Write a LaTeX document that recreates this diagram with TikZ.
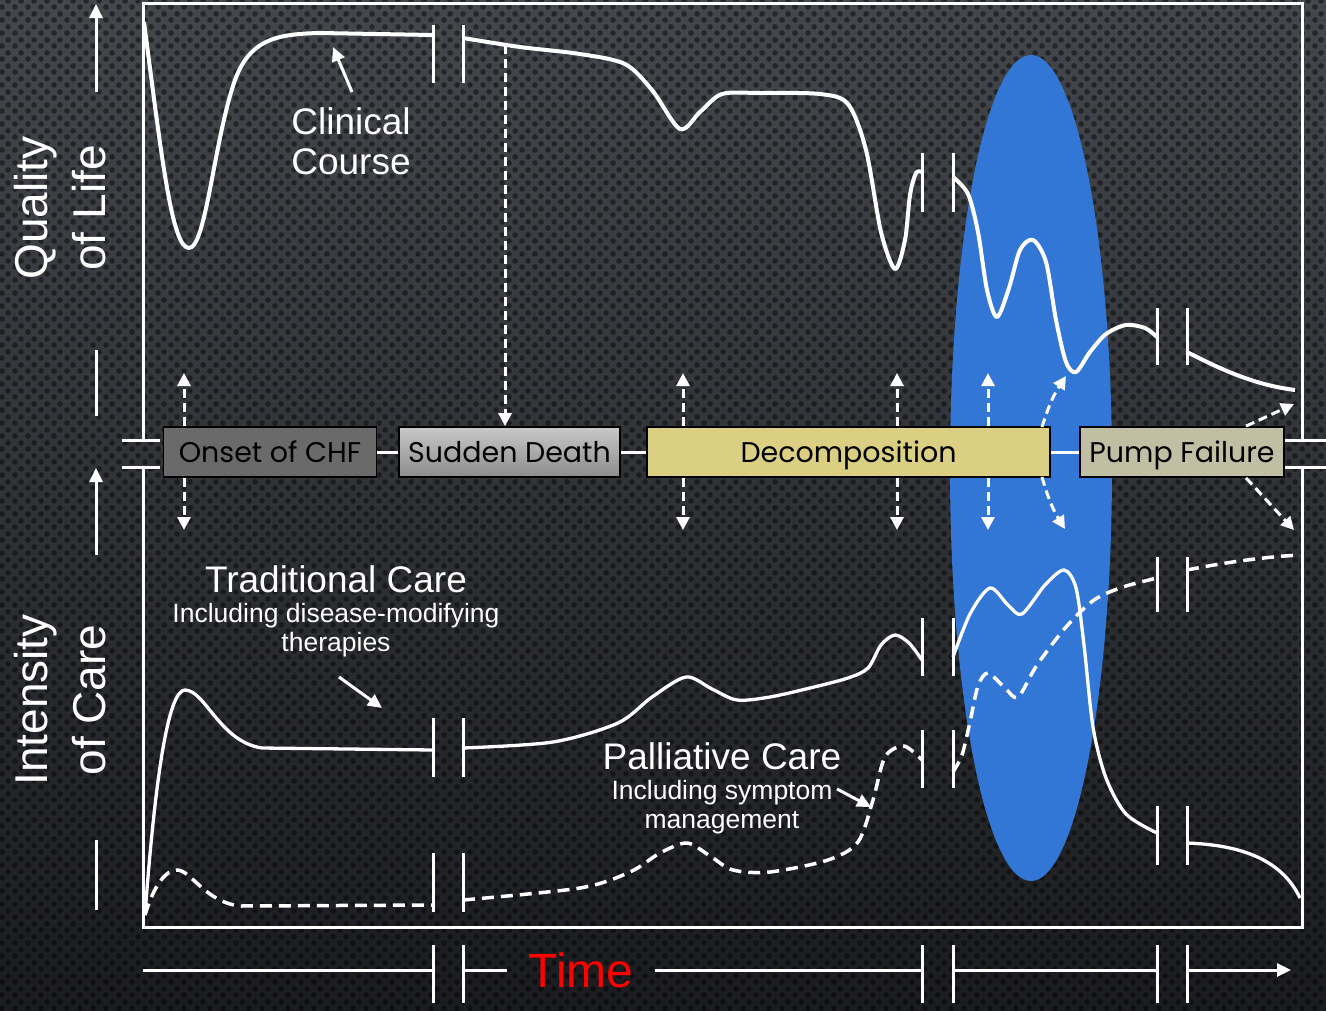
\documentclass[tikz,border=0pt]{standalone}
\usepackage{fontspec}
\setmainfont{Liberation Sans}
\newfontfamily\boxfont{Poppins}
\usetikzlibrary{arrows.meta,patterns,calc}
\definecolor{bgtop}{RGB}{68,71,76}
\definecolor{bgbot}{RGB}{27,28,31}
\definecolor{ellblue}{RGB}{50,118,214}
\definecolor{onsetgray}{RGB}{106,106,106}
\definecolor{sdtop}{RGB}{200,200,200}
\definecolor{sdbot}{RGB}{140,140,140}
\definecolor{decomp}{RGB}{219,207,131}
\definecolor{pumpc}{RGB}{192,191,163}
\pgfdeclarepatternformonly{carbon}{\pgfqpoint{0pt}{0pt}}{\pgfqpoint{13pt}{13pt}}{\pgfqpoint{13pt}{13pt}}{%
  \pgfpathcircle{\pgfqpoint{3.25pt}{3.25pt}}{3pt}%
  \pgfpathcircle{\pgfqpoint{9.75pt}{9.75pt}}{3pt}%
  \pgfusepath{fill}}
\tikzset{
  frame/.style={white, line width=3pt},
  curve/.style={white, line width=4pt, line join=round},
  thincurve/.style={white, line width=3.3pt, line join=round},
  dcurve/.style={white, line width=3.5pt, dash pattern=on 12pt off 7pt},
  brkmark/.style={white, line width=3pt},
  darrow/.style={white, line width=3pt, dash pattern=on 9pt off 5pt, -{Triangle[length=13pt,width=13pt]}},
  sarrow/.style={white, line width=3pt, -{Triangle[length=14pt,width=13pt]}},
  stagebox/.style={draw=black, line width=1.8pt, minimum height=50pt, inner sep=0pt, text height=20pt, text depth=0pt, font=\boxfont\fontsize{28.5}{32}\selectfont, text=black},
  bigtxt/.style={white, font=\fontsize{37}{40}\selectfont, align=center},
  smalltxt/.style={white, font=\fontsize{26.5}{29}\selectfont, align=center},
  axtxt/.style={white, font=\fontsize{46}{58}\selectfont, align=center, rotate=90},
}
\begin{document}
\begin{tikzpicture}[x=1pt,y=-1pt]
\useasboundingbox (0,0) rectangle (1326,1010);
% background
\shade[top color=bgtop, bottom color=bgbot] (0,0) rectangle (1326,1010);
\fill[pattern=carbon, pattern color=black, opacity=0.45] (0,0) rectangle (1326,1010);
% blue ellipse
\fill[ellblue] (1031,468) ellipse [x radius=81, y radius=413];
% frame
\draw[frame] (143,440) -- (143,3) -- (1302,3) -- (1302,440);
\draw[frame] (143,467) -- (143,927) -- (1302,927) -- (1302,467);
\draw[frame] (122,440) -- (160,440);
\draw[frame] (122,467) -- (160,467);
\draw[frame] (1285,440) -- (1326,440);
\draw[frame] (1285,467) -- (1326,467);
% axis labels
\node[axtxt] (qol) at (60,208) {Quality\\of Life};
\node[axtxt] (ioc) at (60,700) {Intensity\\of Care};
\coordinate (qa0) at (96,92); \coordinate (qa1) at (96,4);
\coordinate (ia0) at (96,555); \coordinate (ia1) at (96,468);
\draw[sarrow] (qa0) -- (qa1);
\draw[sarrow] (ia0) -- (ia1);
\draw[frame] (96,350) -- (96,416);
\draw[frame] (96,840) -- (96,910);
% break marks
\foreach \x in {433,463} {\draw[brkmark] (\x,25) -- (\x,83); \draw[brkmark] (\x,718) -- (\x,777); \draw[brkmark] (\x,853) -- (\x,912);}
\foreach \x in {922,953} {\draw[brkmark] (\x,153) -- (\x,212); \draw[brkmark] (\x,618) -- (\x,676); \draw[brkmark] (\x,730) -- (\x,788);}
\foreach \x in {1157,1187} {\draw[brkmark] (\x,308) -- (\x,365); \draw[brkmark] (\x,806) -- (\x,865); \draw[brkmark] (\x,557) -- (\x,612);}
\foreach \x in {433,463,922,953,1157,1187} {\draw[brkmark] (\x,945) -- (\x,1003);}
% quality of life curve
\draw[curve] (144,22) .. controls (162,160) and (172,248) .. (189,248) .. controls (206,248) and (214,140) .. (235,80) .. controls (250,40) and (275,34) .. (320,33) -- (433,35);
\draw[curve] plot[smooth, tension=0.5] coordinates {(463,38) (520,47) (580,54) (625,64) (652,90) (680,129) (700,112) (722,94) (760,93) (820,94) (848,104) (866,150) (881,232) (895,269) (905,240) (910,195) (916,173) (922,172)};
\draw[curve] plot[smooth, tension=0.5] coordinates {(953,177) (968,194) (978,232) (987,290) (997,317) (1009,288) (1020,250) (1033,240) (1046,262) (1056,320) (1066,362) (1076,372) (1090,352) (1106,334) (1126,325) (1145,328) (1157,337)};
\draw[curve] (1187,352) .. controls (1222,370) and (1255,385) .. (1295,390);
% traditional care
\draw[thincurve] (145,915) .. controls (155,780) and (168,690) .. (185,690) .. controls (205,690) and (220,742) .. (262,748) -- (433,750);
\draw[thincurve] plot[smooth, tension=0.5] coordinates {(463,748) (553,742) (618,723) (652,697) (686,677) (712,689) (737,700) (770,697) (810,688) (848,678) (868,668) (881,645) (895,635) (909,643) (922,660)};
\draw[thincurve] plot[smooth, tension=0.5] coordinates {(953,657) (970,614) (990,588) (1008,605) (1022,614) (1045,585) (1064,570) (1076,588) (1084,645) (1093,727) (1106,778) (1126,814) (1157,833)};
\draw[thincurve] (1187,843) .. controls (1242,845) and (1282,860) .. (1300,898);
% palliative care
\draw[dcurve] (145,915) .. controls (155,882) and (167,870) .. (177,870) .. controls (191,870) and (205,902) .. (240,906) -- (433,905);
\draw[dcurve] plot[smooth, tension=0.5] coordinates {(463,900) (580,888) (630,872) (660,853) (687,843) (710,856) (733,870) (770,872) (828,860) (858,842) (873,800) (885,757) (904,746) (922,760)};
\draw[dcurve] plot[smooth, tension=0.5] coordinates {(953,772) (962,755) (970,722) (978,686) (988,673) (1005,688) (1018,697) (1037,665) (1066,627) (1094,600) (1123,587) (1157,578)};
\draw[dcurve] (1187,570) .. controls (1222,563) and (1262,557) .. (1300,555);
% stage boxes
\node[stagebox, fill=onsetgray, minimum width=213pt] (onset) at (270,452) {Onset of CHF};
\node[stagebox, top color=sdtop, bottom color=sdbot, minimum width=221pt] (sudden) at (509.5,452) {Sudden Death};
\node[stagebox, fill=decomp, minimum width=403pt] (decomp) at (848.5,452) {Decomposition};
\node[stagebox, fill=pumpc, minimum width=204pt] (pump) at (1182,452) {Pump Failure};
\draw[frame] (onset.east) -- (sudden.west);
\draw[frame] (sudden.east) -- (decomp.west);
\draw[frame] (decomp.east) -- (pump.west);
% dashed arrows
\coordinate (o1) at (184,373); \coordinate (o2) at (184,530);
\draw[darrow] (onset.north -| o1) -- (o1);
\draw[darrow] (onset.south -| o2) -- (o2);
\coordinate (sd0) at (505,45);
\draw[darrow] (sd0) -- (sudden.north -| sd0);
\foreach \x/\n in {683/a,897/b,988/c} {
  \coordinate (u\n) at (\x,373); \coordinate (d\n) at (\x,530);
  \draw[darrow] (decomp.north -| u\n) -- (u\n);
  \draw[darrow] (decomp.south -| d\n) -- (d\n);
}
\coordinate (e0) at (1042,427); \coordinate (e1) at (1066,376);
\coordinate (f0) at (1042,477); \coordinate (f1) at (1065,529);
\draw[darrow] (e0) to[bend left=8] (e1);
\draw[darrow] (f0) to[bend right=8] (f1);
\coordinate (p1) at (1294,404); \coordinate (p2) at (1294,530);
\draw[darrow] ($(pump.north)+(64,0)$) -- (p1);
\draw[darrow] ($(pump.south)+(64,0)$) -- (p2);
% annotations
\node[bigtxt] (clin) at (351,141) {Clinical\\Course};
\coordinate (clintip) at (333,47);
\draw[sarrow] (352,92) -- (clintip);
\node[bigtxt] (trad) at (336,579) {Traditional Care};
\node[smalltxt] (tradsub) at (336,630) {Including disease-modifying\\therapies};
\coordinate (tradtip) at (382,708);
\draw[sarrow] (339,677) -- (tradtip);
\node[bigtxt] (pall) at (722,756) {Palliative Care};
\node[smalltxt] (pallsub) at (722,807) {Including symptom\\management};
\coordinate (palltip) at (871,807);
\draw[sarrow] (837,789) -- (palltip);
% time axis
\node[text=red, font=\fontsize{48}{50}\selectfont, inner xsep=21pt] (time) at (581,970) {Time};
\draw[frame] (143,970) -- (433,970);
\draw[frame] (463,970) -- (time.west);
\draw[frame] (time.east) -- (922,970);
\draw[frame] (953,970) -- (1157,970);
\coordinate (tend) at (1291,970);
\draw[sarrow] (1187,970) -- (tend);
\end{tikzpicture}
\end{document}
